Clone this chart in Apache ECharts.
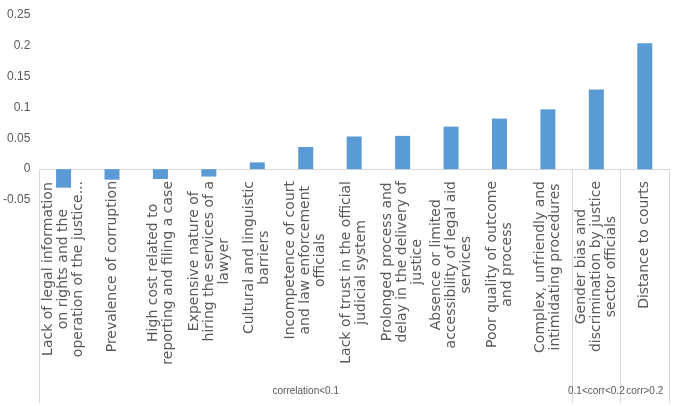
<!DOCTYPE html>
<html>
<head>
<meta charset="utf-8">
<script src="https://cdn.jsdelivr.net/npm/echarts@6/dist/echarts.min.js"></script>
<style>
  html, body { margin: 0; padding: 0; background: #fff; }
  #chart { width: 673px; height: 406px; }
</style>
</head>
<body>
<div id="chart"></div>
<script>
// Barriers to justice, each line of a label separated by "\n"
const categories = [
  'Lack of legal information\non rights and the\noperation of the justice...',
  'Prevalence of corruption',
  'High cost related to\nreporting and filing a case',
  'Expensive nature of\nhiring the services of a\nlawyer',
  'Cultural and linguistic\nbarriers',
  'Incompetence of court\nand law enforcement\nofficials',
  'Lack of trust in the official\njudicial system',
  'Prolonged process and\ndelay in the delivery of\njustice',
  'Absence or limited\naccessibility of legal aid\nservices',
  'Poor quality of outcome\nand process',
  'Complex, unfriendly and\nintimidating procedures',
  'Gender bias and\ndiscrimination by justice\nsector officials',
  'Distance to courts'
];

// Correlation values
const values = [-0.030, -0.017, -0.016, -0.012, 0.011, 0.036, 0.053, 0.054, 0.069, 0.082, 0.097, 0.129, 0.204];

// Correlation groups and how many categories each spans
const groupNames = ['correlation<0.1', '0.1<corr<0.2', 'corr>0.2'];
const groupSizes = [11, 1, 1];

// Y axis range
const yMin = -0.05, yMax = 0.25, yStep = 0.05;

// Group boundaries and centres in category units
const groupStarts = [];
const groupCentres = {};
let acc = 0;
groupSizes.forEach((n, i) => {
  groupStarts.push(acc);
  groupCentres[(acc + n / 2).toFixed(1)] = groupNames[i];
  acc += n;
});

const labelFont = 'DejaVu Sans';
const narrowFont = '"Liberation Sans", sans-serif';
const textColor = '#595959';
const lineColor = '#D9D9D9';

const chart = echarts.init(document.getElementById('chart'));
chart.setOption({
  animation: false,
  grid: { left: 36, right: 4, top: 15, bottom: 206, containLabel: false },
  xAxis: [
    {
      type: 'category',
      data: categories,
      axisLine: { onZero: true, lineStyle: { color: lineColor, width: 1 } },
      axisTick: {
        show: true,
        length: 234,
        interval: (idx) => groupStarts.indexOf(idx) >= 0,
        lineStyle: { color: lineColor, width: 1 }
      },
      axisLabel: {
        interval: 0,
        rotate: 90,
        margin: -19,
        color: textColor,
        fontFamily: labelFont,
        fontSize: 14,
        lineHeight: 15,
        formatter: (v) => v.split('\n').map(l => '{c|' + l + '}').join('\n'),
        rich: {
          c: { align: 'center', fontFamily: labelFont, fontSize: 14, lineHeight: 15, color: textColor }
        }
      }
    },
    {
      type: 'value',
      position: 'bottom',
      min: 0,
      max: categories.length,
      interval: 0.5,
      offset: 178,
      axisLine: { show: false },
      axisTick: { show: false },
      splitLine: { show: false },
      axisLabel: {
        margin: 8,
        color: textColor,
        fontFamily: narrowFont,
        fontSize: 10,
        showMinLabel: true,
        showMaxLabel: true,
        formatter: (v) => groupCentres[v.toFixed(1)] || ''
      }
    }
  ],
  yAxis: {
    type: 'value',
    min: yMin,
    max: yMax,
    interval: yStep,
    axisLine: { show: false },
    axisTick: { show: false },
    splitLine: { show: false },
    axisLabel: {
      margin: 9,
      color: textColor,
      fontFamily: narrowFont,
      fontSize: 12
    }
  },
  series: [{
    type: 'bar',
    xAxisIndex: 0,
    data: values,
    barWidth: 15,
    itemStyle: { color: '#5B9BD5' }
  }]
});
</script>
</body>
</html>
